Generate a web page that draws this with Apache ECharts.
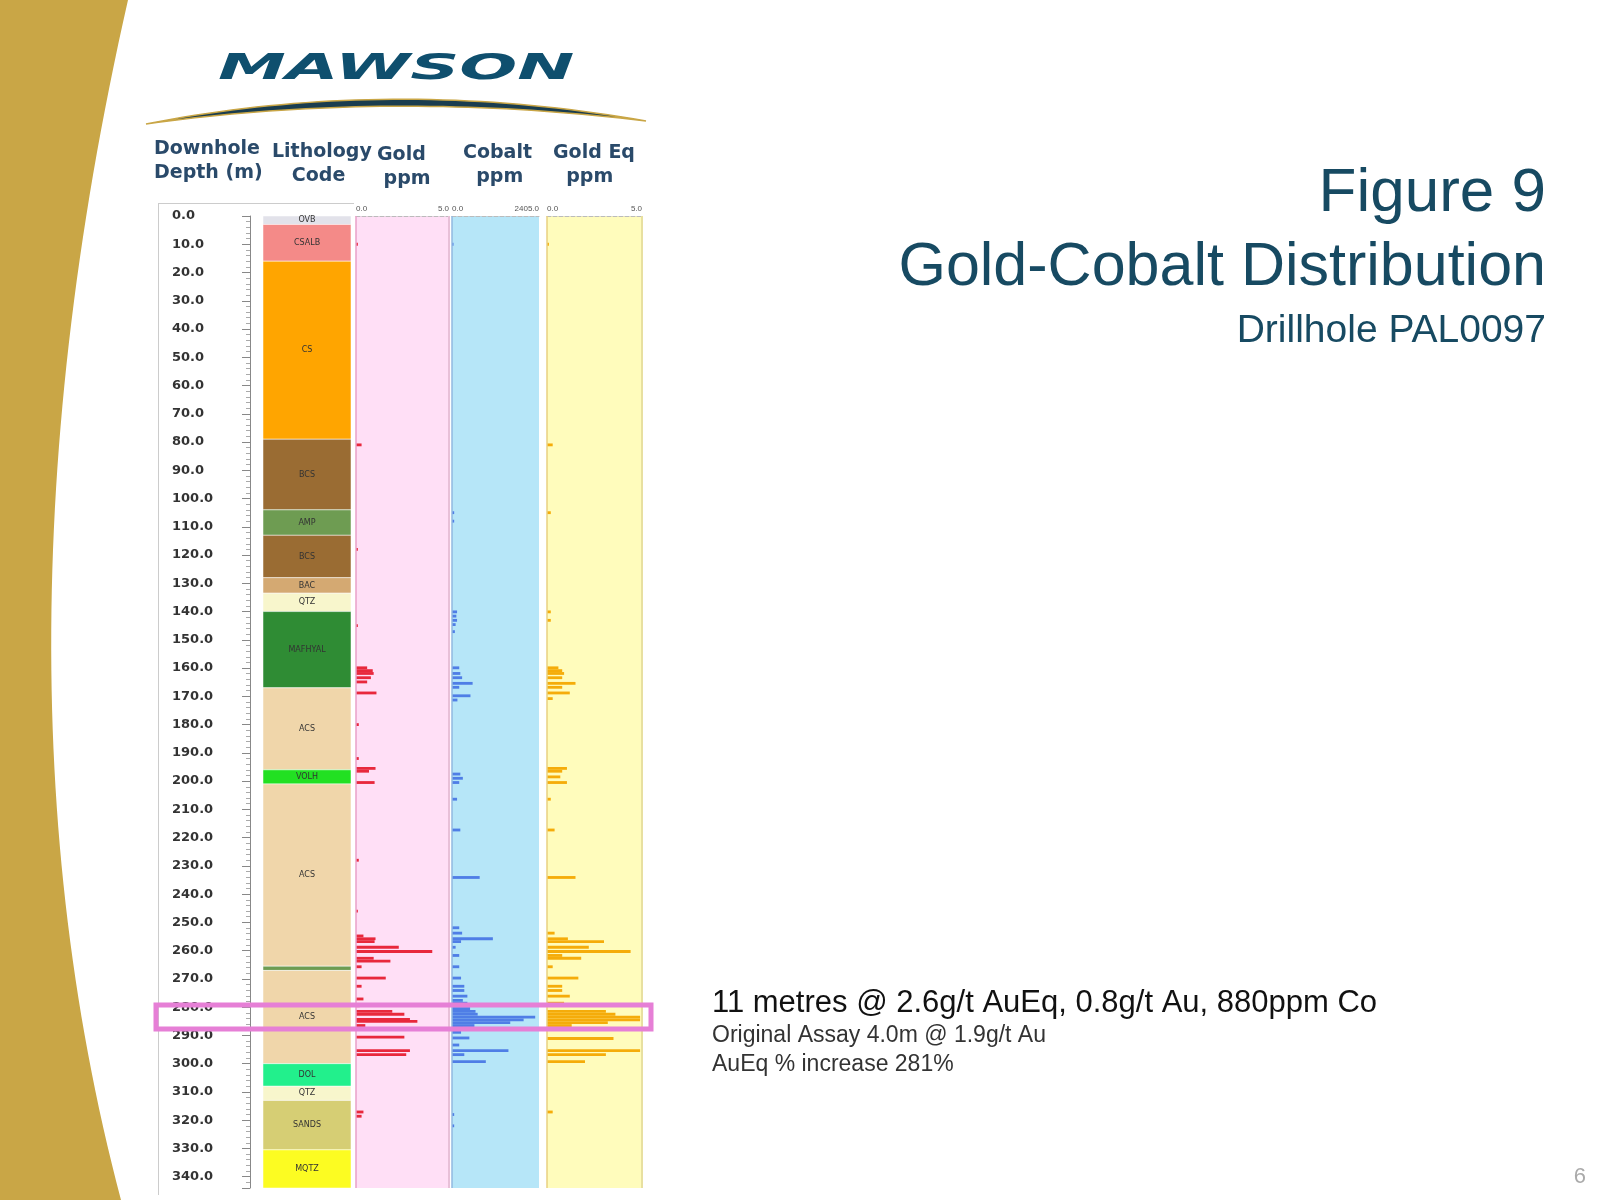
<!DOCTYPE html>
<html>
<head>
    <meta charset="utf-8">
    <script src="https://cdn.jsdelivr.net/npm/echarts@6.0.0/dist/echarts.min.js"></script>
    <style>body{margin:0;background:#fff}</style>
</head>
<body>
    <div id="main" style="width:1600px;height:1200px;"></div>
<script type="text/javascript">
    // lithology intervals: [from, to, code]
    let lithoFrom = [0, 3, 16, 79, 104, 113, 128, 133.5, 140, 167, 196, 201, 265.5, 267, 300, 308, 313, 330.5]
    let lithoTo = [3, 16, 79, 104, 113, 128, 133.5, 140, 167, 196, 201, 265.5, 267, 300, 308, 313, 330.5, 344]
    let lithoCode = ['OVB', 'CSALB', 'CS', 'BCS', 'AMP', 'BCS', 'BAC', 'QTZ', 'MAFHYAL', 'ACS', 'VOLH', 'ACS', 'AMP', 'ACS', 'DOL', 'QTZ', 'SANDS', 'MQTZ']
    let lithoColors = {
        OVB: '#e2e2ea', CSALB: '#f48a88', CS: '#ffa500', BCS: '#9a6c33', AMP: '#6e9c52',
        BAC: '#d4a972', QTZ: '#f8f6cc', MAFHYAL: '#2f8c34', ACS: '#f0d6aa', VOLH: '#22e022',
        DOL: '#22f08c', SANDS: '#d6ce74', MQTZ: '#fcfc22'
    }

    // assays: depth (m) and value
    let goldDepth = [10, 81, 118, 145, 159.9, 160.9, 161.9, 163.4, 164.9, 168.8, 180, 192, 195.5, 196.5, 200.5, 228, 246, 254.8, 255.8, 256.8, 258.8, 260.3, 262.7, 263.7, 265.7, 269.7, 272.6, 277.1, 279.5, 281.5, 282.5, 284.3, 285, 286.5, 290.6, 295.4, 296.8, 317.1, 318.6]
    let goldVal = [0.1, 0.3, 0.1, 0.1, 0.6, 0.9, 0.95, 0.8, 0.6, 1.1, 0.15, 0.15, 1.05, 0.7, 1.0, 0.15, 0.1, 0.4, 1.05, 1.0, 2.3, 4.1, 0.95, 1.85, 0.3, 1.6, 0.3, 0.4, 0.2, 1.95, 2.6, 2.9, 3.3, 0.5, 2.6, 2.9, 2.7, 0.4, 0.3]

    let cobaltDepth = [10, 105, 108, 140.1, 141.6, 143.1, 144.6, 147.1, 159.9, 161.9, 163.4, 165.4, 166.8, 169.8, 171.3, 197.5, 199, 200.5, 206.4, 217.3, 234.1, 251.9, 253.8, 255.8, 256.8, 258.8, 261.7, 265.7, 269.7, 272.6, 274.1, 276.1, 277.6, 278.6, 280.5, 281.5, 282.5, 283.5, 284.5, 285.5, 286.5, 287.4, 288.9, 290.9, 293.4, 295.4, 296.8, 299.3, 318, 322]
    let cobaltVal = [40, 60, 60, 140, 120, 140, 100, 80, 200, 230, 280, 570, 200, 510, 150, 230, 300, 200, 140, 230, 765, 200, 280, 1130, 250, 100, 200, 200, 250, 340, 340, 425, 300, 425, 500, 650, 710, 2300, 1980, 1610, 620, 300, 250, 480, 200, 1560, 340, 935, 60, 60]

    let goldEqDepth = [10, 81, 105, 140.1, 143.1, 159.9, 160.9, 161.9, 163.4, 165.4, 166.8, 168.8, 170.8, 195.5, 196.5, 198.5, 200.5, 206.4, 217.3, 234.1, 253.8, 255.8, 256.8, 258.8, 260.3, 261.7, 262.7, 265.7, 269.7, 272.6, 274.1, 276.1, 278.6, 281.5, 282.5, 283.5, 284.5, 285.5, 286.5, 291.1, 295.4, 296.8, 299.3, 317.1]
    let goldEqVal = [0.1, 0.3, 0.2, 0.2, 0.2, 0.6, 0.8, 0.9, 0.8, 1.5, 0.8, 1.2, 0.3, 1.05, 0.8, 0.7, 1.05, 0.2, 0.4, 1.5, 0.4, 1.1, 3.0, 2.2, 4.4, 0.8, 1.8, 0.3, 1.65, 0.8, 0.8, 1.2, 0.9, 3.1, 3.6, 4.9, 4.9, 3.2, 1.3, 3.5, 4.9, 3.1, 2.0, 0.3]

    let depthMax = 344
    let plotTop = 216
    let plotH = 972

    let myChart = echarts.init(document.getElementById('main'))

    // quadratic curve points for decorative shapes
    function quad(p0, c, p1, n) {
        let pts = []
        for (let i = 0; i <= n; i++) {
            let t = i / n
            pts.push([(1 - t) * (1 - t) * p0[0] + 2 * t * (1 - t) * c[0] + t * t * p1[0],
                      (1 - t) * (1 - t) * p0[1] + 2 * t * (1 - t) * c[1] + t * t * p1[1]])
        }
        return pts
    }
    let sidePts = [[0, 0]].concat(quad([128, 0], [-22, 660], [121, 1200], 60)).concat([[0, 1200]])
    let logoPts = quad([146, 124], [390, 76], [646, 121], 40).concat(quad([646, 121], [390, 90], [146, 124], 40))

    function barItem(color) {
        return function (params, api) {
            let d = api.value(0), v = api.value(1)
            let p0 = api.coord([0, d - 0.5])
            let p1 = api.coord([v, d + 0.5])
            return {
                type: 'rect',
                shape: { x: p0[0], y: p0[1], width: Math.max(p1[0] - p0[0], 1.5), height: Math.max(p1[1] - p0[1], 2) },
                style: { fill: color }
            }
        }
    }

    function valueX(gridIndex, max) {
        return {
            type: 'value', gridIndex: gridIndex, position: 'top', min: 0, max: max, interval: max,
            axisLine: { show: true, lineStyle: { color: '#bbb', type: 'dashed', width: 1 } },
            axisTick: { show: false }, splitLine: { show: false },
            axisLabel: { fontSize: 8, color: '#555', margin: 3, formatter: v => v.toFixed(1),
                         alignMinLabel: 'left', alignMaxLabel: 'right' }
        }
    }

    function depthY(gridIndex, showLabels) {
        return {
            type: 'value', gridIndex: gridIndex, inverse: true, min: 0, max: depthMax, interval: 10,
            axisLine: { show: showLabels, lineStyle: { color: '#888' } },
            axisTick: { show: showLabels, length: 8, lineStyle: { color: '#888' } },
            minorTick: { show: showLabels, splitNumber: 5, length: 4, lineStyle: { color: '#aaa' } },
            splitLine: { show: false },
            axisLabel: {
                show: showLabels, fontSize: 13, fontWeight: 'bold', color: '#333', fontFamily: 'DejaVu Sans',
                align: 'left', margin: 78, formatter: v => v <= 340 ? v.toFixed(1) : ''
            }
        }
    }

    let lithoData = lithoFrom.map((f, i) => [f, lithoTo[i]])
    let headFont = 'bold 19px "DejaVu Sans"'

    let option = {
        animation: false,
        textStyle: { fontFamily: 'Liberation Sans' },
        graphic: [
            { type: 'polygon', shape: { points: sidePts }, style: { fill: '#c9a646' }, z: -10 },
            { type: 'text', x: 218, y: 52, scaleX: 1.55, scaleY: 0.8, z: 5,
              style: { text: 'MAWSON', fill: '#0f4f6e', font: 'italic bold 44px "DejaVu Sans"' } },
            { type: 'polygon', shape: { points: logoPts }, style: { fill: '#1a3d4f', stroke: '#c9a646', lineWidth: 1.5 } },
            { type: 'text', x: 154, y: 137, style: { text: 'Downhole\nDepth (m)', fill: '#2a4a6a', font: headFont, lineHeight: 24 } },
            { type: 'text', x: 272, y: 140, style: { text: 'Lithology\n   Code', fill: '#2a4a6a', font: headFont, lineHeight: 24 } },
            { type: 'text', x: 377, y: 143, style: { text: 'Gold\n ppm', fill: '#2a4a6a', font: headFont, lineHeight: 24 } },
            { type: 'text', x: 463, y: 141, style: { text: 'Cobalt\n  ppm', fill: '#2a4a6a', font: headFont, lineHeight: 24 } },
            { type: 'text', x: 553, y: 141, style: { text: 'Gold Eq\n  ppm', fill: '#2a4a6a', font: headFont, lineHeight: 24 } },
            { type: 'rect', shape: { x: 158, y: 203, width: 1, height: 992 }, style: { fill: '#ccc' } },
            { type: 'rect', shape: { x: 158, y: 203, width: 196, height: 1 }, style: { fill: '#ccc' } },
            { type: 'text', x: 1546, y: 163, style: { text: 'Figure 9', fill: '#174a62', font: '62px "Liberation Sans"', align: 'right' } },
            { type: 'text', x: 1546, y: 238, style: { text: 'Gold-Cobalt Distribution', fill: '#174a62', font: '61px "Liberation Sans"', align: 'right' } },
            { type: 'text', x: 1546, y: 312, style: { text: 'Drillhole PAL0097', fill: '#174a62', font: '39px "Liberation Sans"', align: 'right' } },
            { type: 'text', x: 712, y: 988, style: { text: '11 metres @ 2.6g/t AuEq, 0.8g/t Au, 880ppm Co', fill: '#111', font: '31px "Liberation Sans"' } },
            { type: 'text', x: 712, y: 1021, style: { text: 'Original Assay 4.0m @ 1.9g/t Au\nAuEq % increase 281%', fill: '#333', font: '23px "Liberation Sans"', lineHeight: 29 } },
            { type: 'text', x: 1586, y: 1166, style: { text: '6', fill: '#aaa', font: '22px "Liberation Sans"', align: 'right' } },
            { type: 'rect', shape: { x: 156, y: 1005, width: 495, height: 24 }, style: { fill: 'none', stroke: '#e67fd6', lineWidth: 5 }, z: 20 }
        ],
        grid: [
            { left: 250, top: plotTop, width: 1, height: plotH },
            { left: 263, top: plotTop, width: 88, height: plotH },
            { left: 356, top: plotTop, width: 93, height: plotH, show: true, backgroundColor: '#ffdff6', borderWidth: 0 },
            { left: 452, top: plotTop, width: 87, height: plotH, show: true, backgroundColor: '#b6e6f8', borderWidth: 0 },
            { left: 547, top: plotTop, width: 95, height: plotH, show: true, backgroundColor: '#fffcbc', borderWidth: 0 }
        ],
        xAxis: [
            { type: 'value', gridIndex: 0, show: false },
            { type: 'value', gridIndex: 1, min: 0, max: 1, show: false },
            valueX(2, 5),
            valueX(3, 2405),
            valueX(4, 5)
        ],
        yAxis: [depthY(0, true), depthY(1, false), depthY(2, false), depthY(3, false), depthY(4, false)],
        series: [
            {
                type: 'custom', xAxisIndex: 1, yAxisIndex: 1, data: lithoData,
                encode: { y: [0, 1] },
                renderItem: function (params, api) {
                    let p0 = api.coord([0, api.value(0)])
                    let p1 = api.coord([1, api.value(1)])
                    let code = lithoCode[params.dataIndex]
                    let h = p1[1] - p0[1]
                    return {
                        type: 'rect',
                        shape: { x: p0[0], y: p0[1], width: p1[0] - p0[0], height: h },
                        style: { fill: lithoColors[code], stroke: '#fff', lineWidth: 0.5 },
                        textContent: { style: { text: h > 6 ? code : '', fill: '#333', font: '8px "DejaVu Sans"' } },
                        textConfig: { position: 'inside' }
                    }
                }
            },
            { type: 'custom', xAxisIndex: 2, yAxisIndex: 2, data: goldDepth.map((d, i) => [d, goldVal[i]]),
              encode: { y: 0, x: 1 }, renderItem: barItem('#e8283c') },
            { type: 'custom', xAxisIndex: 3, yAxisIndex: 3, data: cobaltDepth.map((d, i) => [d, cobaltVal[i]]),
              encode: { y: 0, x: 1 }, renderItem: barItem('#4f7ee6') },
            { type: 'custom', xAxisIndex: 4, yAxisIndex: 4, data: goldEqDepth.map((d, i) => [d, goldEqVal[i]]),
              encode: { y: 0, x: 1 }, renderItem: barItem('#f5ac0a') },
            // baselines and right edge lines of the assay columns
            { type: 'line', xAxisIndex: 2, yAxisIndex: 2, data: [[0, 0], [0, depthMax]], symbol: 'none', lineStyle: { color: '#e8a0c8', width: 1.5 } },
            { type: 'line', xAxisIndex: 2, yAxisIndex: 2, data: [[5, 0], [5, depthMax]], symbol: 'none', lineStyle: { color: '#e8c0d8', width: 2 } },
            { type: 'line', xAxisIndex: 3, yAxisIndex: 3, data: [[0, 0], [0, depthMax]], symbol: 'none', lineStyle: { color: '#90b8e0', width: 1.5 } },
            { type: 'line', xAxisIndex: 4, yAxisIndex: 4, data: [[0, 0], [0, depthMax]], symbol: 'none', lineStyle: { color: '#e8d080', width: 1.5 } },
            { type: 'line', xAxisIndex: 4, yAxisIndex: 4, data: [[5, 0], [5, depthMax]], symbol: 'none', lineStyle: { color: '#e8e0a0', width: 2 } }
        ]
    }
    myChart.setOption(option)
</script>
</body>
</html>
